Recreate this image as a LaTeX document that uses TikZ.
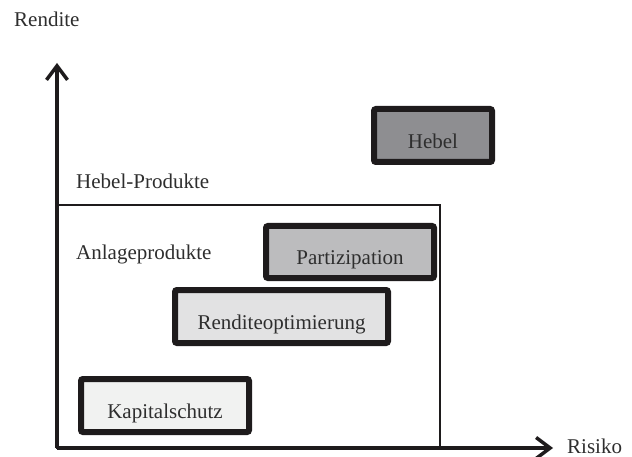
\documentclass[tikz,border=0pt]{standalone}
\usepackage{fontspec}
\setmainfont{Liberation Serif}
\usetikzlibrary{arrows.meta,positioning}

\definecolor{rahmen}{HTML}{1E1B1C}
\definecolor{schrift}{HTML}{2E2E2E}
\definecolor{hebelgrau}{HTML}{8E8E91}
\definecolor{partgrau}{HTML}{BCBCBE}
\definecolor{renditegrau}{HTML}{E2E2E3}
\definecolor{kapitalgrau}{HTML}{F1F2F1}

\tikzset{
    beschriftung/.style={font=\fontsize{21}{25}\selectfont, text=schrift, inner sep=0pt},
    produkt/.style={beschriftung, draw=rahmen, line width=6pt, rounded corners=2pt,
        minimum height=53pt, text height=28pt, text depth=2pt},
    achse/.style={draw=rahmen, line width=3.5pt, -{Straight Barb[length=14pt,width=21pt]}}
}

\begin{document}
\begin{tikzpicture}[x=1pt,y=-1pt]
    \useasboundingbox (0,0) rectangle (632,457);

    % Hebel-Produkte Rahmen
    \node (rahmen) [draw=rahmen, line width=2pt, minimum width=383pt, minimum height=243pt] at (248.5,326.5) {};

    % Achsen
    \coordinate (ursprung) at (57,448);
    \coordinate (yende) at (57,63);
    \coordinate (xende) at (553,448);
    \draw [achse] (ursprung) -- (yende);
    \draw [achse] (ursprung) -- (xende);
    \node (rendite) [beschriftung, anchor=base west] at (14,27) {Rendite};
    \node (risiko) [beschriftung, anchor=base west, text depth=0pt] at (567,453) {Risiko};

    \node (hebelprod) [beschriftung, anchor=base west] at (76,189) {Hebel-Produkte};
    \node (anlageprod) [beschriftung, anchor=base west] at (76,260) {Anlageprodukte};

    % Produkte
    \node (hebel) [produkt, fill=hebelgrau, minimum width=118pt] at (433,135.5) {Hebel};
    \node (partizipation) [produkt, fill=partgrau, minimum width=168pt, minimum height=52pt] at (350,252) {Partizipation};
    \node (renditeopt) [produkt, fill=renditegrau, minimum width=213pt] at (281.5,316.5) {Renditeoptimierung};
    \node (kapitalschutz) [produkt, fill=kapitalgrau, minimum width=168pt] at (165,405.5) {Kapitalschutz};
\end{tikzpicture}
\end{document}
